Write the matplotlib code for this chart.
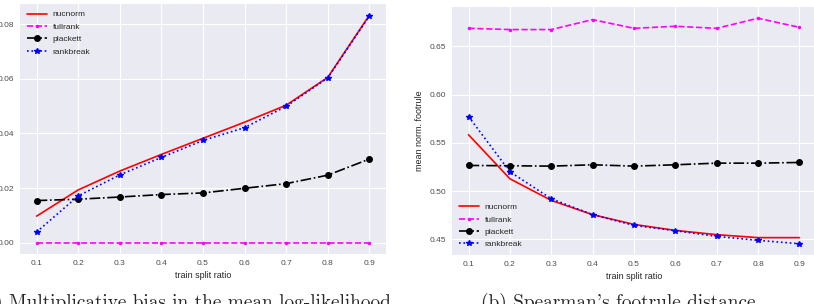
import numpy as np
import matplotlib
matplotlib.use("Agg")
import matplotlib.pyplot as plt

# train split ratios (x axis for both panels)
split = [0.1, 0.2, 0.3, 0.4, 0.5, 0.6, 0.7, 0.8, 0.9]

# (a) multiplicative bias in the mean log-likelihood
bias_nucnorm = [0.0097, 0.0193, 0.0262, 0.0323, 0.0382, 0.0441, 0.0503, 0.0605, 0.0832]
bias_fullrank = [0.0, 0.0, 0.0, 0.0, 0.0, 0.0, 0.0, 0.0, 0.0]
bias_plackett = [0.0154, 0.0159, 0.0167, 0.0176, 0.0182, 0.0199, 0.0216, 0.0247, 0.0306]
bias_rankbreak = [0.0039, 0.0171, 0.0248, 0.0312, 0.0374, 0.0421, 0.0499, 0.0603, 0.0830]

# (b) Spearman's footrule distance
foot_nucnorm = [0.5584, 0.5128, 0.4904, 0.4756, 0.4655, 0.4593, 0.4549, 0.4518, 0.4518]
foot_fullrank = [0.6687, 0.6674, 0.6674, 0.6777, 0.6687, 0.6708, 0.6687, 0.6791, 0.6697]
foot_plackett = [0.5266, 0.5263, 0.5259, 0.5273, 0.5259, 0.5273, 0.5290, 0.5290, 0.5297]
foot_rankbreak = [0.5773, 0.5201, 0.4921, 0.4756, 0.4645, 0.4590, 0.4531, 0.4490, 0.4455]

plt.style.use("seaborn-v0_8-darkgrid")
plt.rcParams["font.family"] = ["Liberation Sans", "DejaVu Sans"]


def draw(ax, nuc, full, plack, rb):
    ax.plot(split, nuc, color="red", linestyle="-", linewidth=1.2, label="nucnorm")
    ax.plot(split, full, color="magenta", linestyle="--", linewidth=1.2,
            marker=".", markersize=3, label="fullrank")
    ax.plot(split, plack, color="black", linestyle="-.", linewidth=1.2,
            marker="o", markersize=4, label="plackett")
    ax.plot(split, rb, color="blue", linestyle=":", linewidth=1.2,
            marker="*", markersize=4, label="rankbreak")
    ax.set_xticks(split)
    ax.set_xlabel("train split ratio", fontsize=6.5, color=".15", labelpad=3)
    ax.tick_params(labelsize=6, colors=".15", pad=4)
    for lab in ax.get_xticklabels() + ax.get_yticklabels():
        lab.set_color(".3")


def legend(ax, loc, pad):
    ax.legend(loc=loc, prop={"size": 6}, frameon=False, handlelength=2.4,
              handletextpad=0.7, labelspacing=0.55, borderaxespad=pad)


fig = plt.figure(figsize=(8.14, 3.04), dpi=100)

# left panel
ax1 = fig.add_axes([20 / 814, 1 - 254 / 304, 366 / 814, 250 / 304])
draw(ax1, bias_nucnorm, bias_fullrank, bias_plackett, bias_rankbreak)
ax1.set_yticks([0.00, 0.02, 0.04, 0.06, 0.08])
ax1.set_yticklabels(["0.00", "0.02", "0.04", "0.06", "0.08"])
legend(ax1, "upper left", 0.4)

# right panel
ax2 = fig.add_axes([452 / 814, 1 - 255 / 304, 364 / 814, 248 / 304])
draw(ax2, foot_nucnorm, foot_fullrank, foot_plackett, foot_rankbreak)
ax2.set_yticks([0.45, 0.50, 0.55, 0.60, 0.65])
ax2.set_yticklabels(["0.45", "0.50", "0.55", "0.60", "0.65"])
ax2.set_ylabel("mean norm. footrule", fontsize=6.5, color=".15", labelpad=4)
legend(ax2, "lower left", 0.4)

# captions below the panels (cropped at the bottom, as in the source)
# cmr10 draws the ASCII quote as a right single quote
fig.text(184 / 814, -0.012, "(a) Multiplicative bias in the mean log-likelihood",
         family="cmr10", fontsize=13.9, ha="center", va="baseline")
fig.text(618 / 814, -0.012, "(b) Spearman's footrule distance",
         family="cmr10", fontsize=13.9, ha="center", va="baseline")

fig.savefig("out.png", dpi=100)
